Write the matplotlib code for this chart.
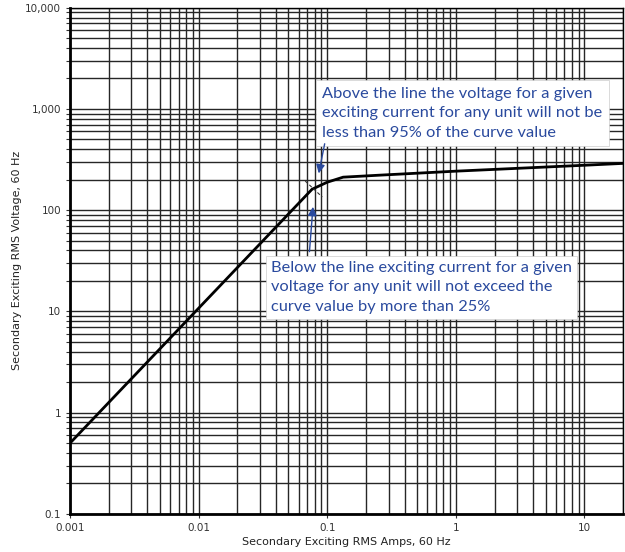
import matplotlib
matplotlib.use('Agg')
import matplotlib.pyplot as plt
from matplotlib.ticker import LogLocator, FixedLocator, NullFormatter

# excitation curve
amps = [0.001, 0.0762, 0.100, 0.133, 0.258, 1, 10, 20]
volts = [0.5, 161, 189, 212, 222, 243, 278, 290]

xticks = [0.001, 0.01, 0.1, 1, 10]
xlabels = ['0.001', '0.01', '0.1', '1', '10']
yticks = [0.1, 1, 10, 100, 1000, 10000]
ylabels = ['0.1', '1', '10', '100', '1,000', '10,000']

note_top = 'Above the line the voltage for a given\nexciting current for any unit will not be\nless than 95% of the curve value'
note_bot = 'Below the line exciting current for a given\nvoltage for any unit will not exceed the\ncurve value by more than 25%'
blue = '#2a4a9e'

fig = plt.figure(figsize=(6.25, 5.52), dpi=100)
ax = fig.add_axes([0.112, 0.069, 0.885, 0.917])
ax.set_xscale('log'); ax.set_yscale('log')
ax.set_xlim(0.001, 20); ax.set_ylim(0.1, 10000)

ax.xaxis.set_major_locator(FixedLocator(xticks))
ax.set_xticklabels(xlabels)
ax.yaxis.set_major_locator(FixedLocator(yticks))
ax.set_yticklabels(ylabels)
for a in (ax.xaxis, ax.yaxis):
    a.set_minor_locator(LogLocator(base=10, subs=range(2, 10), numticks=20))
    a.set_minor_formatter(NullFormatter())
ax.grid(True, which='both', color='#262626', lw=1.0)
ax.tick_params(which='both', labelsize=7.5, colors='#333', length=3, width=0.8)
ax.tick_params(axis='x', which='minor', length=0)
for s in ['left', 'bottom']:
    ax.spines[s].set_linewidth(2)
for s in ['top', 'right']:
    ax.spines[s].set_linewidth(1)

ax.plot(amps, volts, color='black', lw=2, zorder=3)

ax.set_xlabel('Secondary Exciting RMS Amps, 60 Hz', fontsize=8, color='#222', labelpad=3)
ax.set_ylabel('Secondary Exciting RMS Voltage, 60 Hz', fontsize=8, color='#222')
ax.yaxis.set_label_coords(-0.087, 0.5)

# notes and arrows
ax.text(0.456, 0.844, note_top, transform=ax.transAxes, ha='left', va='top', fontsize=11.8,
        family='Lato', color=blue, linespacing=1.5, zorder=5,
        bbox=dict(boxstyle='square,pad=0.4', fc='white', ec='#cccccc', lw=0.5))
ax.text(0.363, 0.500, note_bot, transform=ax.transAxes, ha='left', va='top', fontsize=11.8,
        family='Lato', color=blue, linespacing=1.5, zorder=5,
        bbox=dict(boxstyle='square,pad=0.3', fc='white', ec='#cccccc', lw=0.5))
ax.annotate('', xy=(0.0851, 217), xytext=(0.0965, 482), zorder=6,
            arrowprops=dict(arrowstyle='-|>', color=blue, lw=1, mutation_scale=13))
ax.annotate('', xy=(0.0778, 115), xytext=(0.0725, 36.6), zorder=6,
            arrowprops=dict(arrowstyle='-|>', color=blue, lw=1, mutation_scale=13))
ax.plot([0.0675, 0.0915], [194, 135], color='#333', lw=0.8, ls=(0, (3, 2)), zorder=4)

fig.savefig('out.png', dpi=100)
